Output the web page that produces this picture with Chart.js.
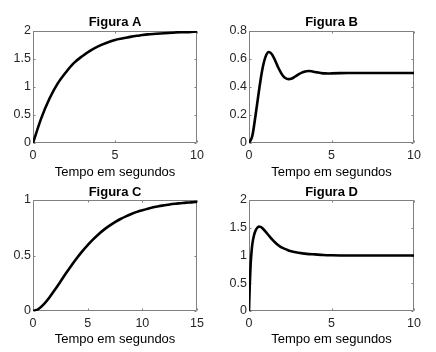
<!DOCTYPE html>
<html>
<head>
<meta charset="utf-8">
<script src="https://cdn.jsdelivr.net/npm/chart.js@4/dist/chart.umd.min.js"></script>
<style>
  body { margin: 0; background: #fff; }
  .painel { position: absolute; }
</style>
</head>
<body>
<canvas id="figA" class="painel" style="left:0px;top:0px" width="218" height="182"></canvas>
<canvas id="figB" class="painel" style="left:218px;top:0px" width="218" height="182"></canvas>
<canvas id="figC" class="painel" style="left:0px;top:176px" width="218" height="176"></canvas>
<canvas id="figD" class="painel" style="left:218px;top:176px" width="218" height="176"></canvas>
<script>
// dados (tempo em segundos / resposta)
const tempoA = [0, 0.5, 1, 1.5, 2, 2.5, 3, 3.5, 4, 4.5, 5, 5.5, 6, 6.5, 7, 7.5, 8, 8.5, 9, 9.5, 10];
const valoresA = [0, 0.44, 0.79, 1.06, 1.26, 1.43, 1.55, 1.65, 1.73, 1.79, 1.84, 1.87, 1.9, 1.92, 1.94, 1.95, 1.96, 1.97, 1.98, 1.98, 1.99];

const tempoB = [0, 0.2, 0.4, 0.6, 0.8, 1, 1.2, 1.4, 1.6, 1.8, 2, 2.2, 2.4, 2.6, 2.8, 3, 3.2, 3.4, 3.6, 3.8, 4, 4.2, 4.4, 4.6, 4.8, 5, 5.5, 6, 7, 8, 9, 10];
const valoresB = [0, 0.05, 0.2, 0.37, 0.52, 0.615, 0.65, 0.632, 0.585, 0.532, 0.49, 0.464, 0.456, 0.461, 0.475, 0.49, 0.503, 0.511, 0.514, 0.512, 0.507, 0.503, 0.499, 0.497, 0.496, 0.497, 0.499, 0.5, 0.5, 0.5, 0.5, 0.5];

const tempoC = [0, 0.5, 1, 1.5, 2, 2.5, 3, 3.5, 4, 4.5, 5, 5.5, 6, 6.5, 7, 7.5, 8, 8.5, 9, 9.5, 10, 10.5, 11, 11.5, 12, 12.5, 13, 13.5, 14, 14.5, 15];
const valoresC = [0, 0.018, 0.062, 0.122, 0.191, 0.264, 0.337, 0.408, 0.475, 0.537, 0.594, 0.645, 0.692, 0.733, 0.769, 0.801, 0.829, 0.853, 0.874, 0.893, 0.908, 0.922, 0.934, 0.944, 0.952, 0.96, 0.966, 0.971, 0.976, 0.979, 0.983];

const tempoD = [0, 0.05, 0.1, 0.15, 0.2, 0.3, 0.4, 0.5, 0.6, 0.7, 0.8, 1, 1.2, 1.4, 1.6, 1.8, 2, 2.25, 2.5, 3, 3.5, 4, 4.5, 5, 6, 7, 8, 9, 10];
const valoresD = [0, 0.5, 0.85, 1.05, 1.2, 1.36, 1.45, 1.5, 1.52, 1.515, 1.495, 1.43, 1.36, 1.29, 1.23, 1.18, 1.14, 1.11, 1.08, 1.05, 1.03, 1.02, 1.01, 1.005, 1, 1, 1, 1, 1];

const titulos = ["Figura A", "Figura B", "Figura C", "Figura D"];
const eixoX = "Tempo em segundos";

Chart.defaults.font.family = "'Liberation Sans', Arial, Helvetica, sans-serif";
Chart.defaults.color = "#262626";

// caixa estilo matlab com marcas para dentro
const caixa = {
  id: "caixa",
  beforeDatasetsDraw(chart) {
    const ctx = chart.ctx;
    const a = chart.chartArea;
    const x = chart.scales.x;
    const y = chart.scales.y;
    const l = Math.round(a.left) + 0.5;
    const r = Math.round(a.right) - 0.5;
    const t = Math.round(a.top) + 0.5;
    const b = Math.round(a.bottom) - 0.5;
    ctx.save();
    ctx.strokeStyle = "#808080";
    ctx.lineWidth = 1;
    ctx.beginPath();
    ctx.rect(l, t, r - l, b - t);
    x.ticks.forEach(function (tk) {
      const px = Math.round(x.getPixelForValue(tk.value)) + 0.5;
      ctx.moveTo(px, b); ctx.lineTo(px, b - 2);
      ctx.moveTo(px, t); ctx.lineTo(px, t + 2);
    });
    y.ticks.forEach(function (tk) {
      const py = Math.round(y.getPixelForValue(tk.value)) + 0.5;
      ctx.moveTo(l, py); ctx.lineTo(l + 2, py);
      ctx.moveTo(r, py); ctx.lineTo(r - 2, py);
    });
    ctx.stroke();
    ctx.restore();
  }
};

// titulo vai num eixo de cima para ficar centrado sobre a area do grafico
function figura(id, tempo, valores, titulo, xMax, yMax, yPasso, yLarg, dir, topoAlt, topoPad, xAlt, eixoPad) {
  var ctx = document.getElementById(id).getContext("2d");
  return new Chart(ctx, {
    type: "line",
    data: {
      datasets: [{
        data: tempo.map((t, i) => ({ x: t, y: valores[i] })),
        borderColor: "#000",
        borderWidth: 2.6,
        pointRadius: 0,
        cubicInterpolationMode: "monotone",
        fill: false,
      }],
    },
    options: {
      responsive: false,
      animation: false,
      layout: { padding: { left: 0, right: dir, top: 0, bottom: 0 } },
      plugins: {
        legend: { display: false },
        tooltip: { enabled: false },
      },
      scales: {
        x: {
          type: "linear",
          min: 0,
          max: xMax,
          grid: { display: false, drawTicks: false },
          border: { display: false },
          ticks: { stepSize: 5, padding: 5.5, maxRotation: 0, font: { size: 12.5 } },
          title: { display: true, text: eixoX, color: "#000", font: { size: 13 }, padding: { top: 0, bottom: eixoPad } },
          afterFit: (s) => { s.height = xAlt; },
        },
        topo: {
          type: "linear",
          position: "top",
          min: 0,
          max: xMax,
          grid: { display: false, drawTicks: false },
          border: { display: false },
          ticks: { display: false },
          title: { display: true, text: titulo, color: "#000", font: { size: 13, weight: "bold" }, padding: { top: topoPad, bottom: 0 } },
          afterFit: (s) => { s.height = topoAlt; },
        },
        y: {
          min: 0,
          max: yMax,
          grid: { display: false, drawTicks: false },
          border: { display: false },
          ticks: {
            stepSize: yPasso,
            padding: 2,
            font: { size: 12.5 },
            callback: (v) => String(+v.toFixed(2)),
          },
          afterFit: (s) => { s.width = yLarg; },
        },
      },
    },
    plugins: [caixa],
  });
}

figura("figA", tempoA, valoresA, titulos[0], 10, 2, 0.5, 33, 21, 31, 15, 39, 2.2);
figura("figB", tempoB, valoresB, titulos[1], 10, 0.8, 0.2, 31, 22, 31, 15, 39, 2.2);
figura("figC", tempoC, valoresC, titulos[2], 15, 1, 0.5, 33, 21, 24, 9, 41, 5.2);
figura("figD", tempoD, valoresD, titulos[3], 10, 2, 0.5, 31, 22, 24, 9, 41, 5.2);
</script>
</body>
</html>
